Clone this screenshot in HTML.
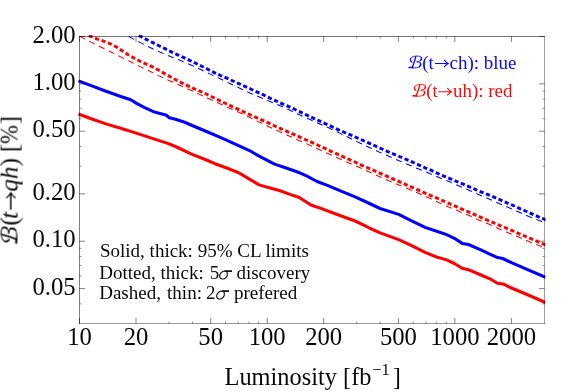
<!DOCTYPE html>
<html><head><meta charset="utf-8"><title>plot</title>
<style>
html,body{margin:0;padding:0;background:#fff;}
body{width:581px;height:391px;overflow:hidden;font-family:"Liberation Serif",serif;}
svg{display:block;}
text{font-family:"Liberation Serif",serif;fill:#000;}
</style></head><body>
<svg width="581" height="391" viewBox="0 0 581 391">
<rect width="581" height="391" fill="#fff"/>
<defs><clipPath id="c"><rect x="78.0" y="35.0" width="467.5" height="289.0"/></clipPath></defs>

<g clip-path="url(#c)" fill="none" stroke-linejoin="round">
<path d="M79.4 36.2 L82.2 37.6 L92.0 42.6 L101.8 47.5 L111.6 52.3 L121.6 57.4 L131.1 62.0 L141.2 67.1 L150.8 71.8 L160.2 76.4 L170.1 81.0 L180.3 85.5 L190.4 90.0 L199.6 94.4 L209.5 99.0 L219.8 103.7 L229.6 108.2 L239.4 112.6 L249.8 117.4 L259.1 122.1 L269.3 126.9 L279.3 131.6 L289.1 135.9 L298.9 140.4 L309.2 144.9 L318.9 149.5 L328.9 154.0 L338.8 158.5 L348.9 162.9 L358.9 167.3 L368.7 171.7 L378.6 176.2 L388.4 180.6 L398.8 184.9 L408.6 189.1 L418.9 193.6 L429.2 198.0 L438.1 202.3 L448.2 206.8 L458.6 211.1 L468.6 215.3 L478.6 219.9 L488.7 224.1 L498.3 228.5 L508.6 233.0 L518.7 237.1 L528.7 241.4 L539.1 245.6 L546.5 248.6" stroke="#f00" stroke-width="1.05" stroke-dasharray="6.222 4.694" stroke-dashoffset="0.000"/>
<path d="M128.7 36.5 L131.4 37.9 L140.9 42.9 L150.7 47.8 L160.5 52.3 L171.0 56.7 L180.8 60.6 L190.9 64.9 L200.7 69.5 L210.3 74.1 L220.1 78.8 L229.9 83.5 L239.8 88.2 L249.8 92.9 L260.0 97.2 L269.8 101.5 L280.1 105.8 L290.0 110.3 L300.3 115.3 L310.1 119.6 L320.5 124.3 L330.3 128.6 L339.6 133.1 L349.2 137.7 L358.8 142.6 L368.9 147.2 L378.9 151.9 L388.7 156.2 L398.6 160.6 L408.4 164.7 L418.8 169.1 L428.9 173.2 L438.9 177.4 L449.0 181.6 L459.1 186.0 L469.1 190.3 L479.1 194.7 L489.0 199.0 L499.0 203.4 L509.1 207.8 L518.9 212.1 L528.7 216.4 L539.1 220.5 L546.5 223.4" stroke="#00f" stroke-width="1.05" stroke-dasharray="6.212 4.687" stroke-dashoffset="0.000"/>
<path d="M88.7 35.6 L90.7 36.4 L97.4 39.1 L104.1 41.3 L110.3 43.8 L116.5 47.0 L122.1 50.7 L127.7 54.4 L133.4 57.8 L140.0 61.2 L146.0 64.0 L152.4 66.9 L158.4 70.0 L164.3 73.4 L170.3 76.7 L176.2 80.0 L182.1 83.0 L188.3 86.1 L194.4 88.8 L201.0 91.6 L207.2 94.5 L213.4 97.5 L219.6 100.5 L225.7 103.5 L231.7 106.3 L237.9 109.2 L244.1 112.0 L250.3 114.8 L256.5 117.6 L262.7 120.4 L268.9 123.2 L275.1 126.1 L281.3 128.8 L287.5 131.6 L293.7 134.3 L299.9 137.2 L306.3 140.0 L312.3 142.6 L318.6 145.5 L325.0 148.4 L331.2 151.3 L337.4 154.1 L343.4 156.9 L349.6 159.7 L356.0 162.5 L362.0 165.3 L368.2 168.0 L374.4 170.7 L381.0 173.6 L387.2 176.3 L393.4 179.1 L399.8 181.9 L406.0 184.6 L412.2 187.4 L418.4 190.2 L424.6 192.9 L430.8 195.6 L437.1 198.2 L443.3 200.9 L449.5 203.7 L455.9 206.4 L462.1 209.2 L468.3 211.8 L474.6 214.6 L480.8 217.3 L487.0 220.0 L493.4 222.6 L499.6 225.4 L506.0 228.0 L512.2 230.6 L518.4 233.4 L524.6 236.0 L530.8 238.7 L537.2 241.4 L543.7 244.2 L551.0 247.4" stroke="#f00" stroke-width="2.95" stroke-dasharray="4.236 2.597" stroke-dashoffset="0.000"/>
<path d="M138.8 35.4 L140.7 36.4 L147.1 39.8 L153.3 42.9 L159.5 46.0 L165.5 48.9 L171.4 51.9 L177.6 54.8 L183.9 57.6 L190.1 60.6 L196.2 63.5 L202.2 66.5 L208.2 69.5 L214.4 72.6 L220.6 75.5 L226.8 78.2 L232.9 81.0 L239.3 83.8 L245.5 86.6 L251.7 89.5 L257.9 92.4 L264.1 95.2 L270.3 98.4 L276.5 101.1 L282.5 103.9 L288.9 106.6 L295.0 109.5 L301.2 112.4 L307.4 115.4 L313.6 118.3 L320.0 121.2 L326.2 124.1 L332.4 126.9 L338.6 129.8 L344.8 132.5 L351.0 135.1 L357.2 137.9 L363.4 140.6 L369.6 143.4 L375.8 146.2 L382.0 149.0 L388.2 151.8 L394.4 154.4 L400.6 157.0 L406.8 159.7 L413.1 162.4 L419.5 165.3 L425.7 168.1 L431.9 170.7 L438.1 173.6 L444.4 176.3 L450.5 178.9 L456.7 181.5 L463.2 184.2 L468.9 186.7 L475.2 189.4 L481.6 192.1 L488.1 194.7 L494.5 197.4 L500.8 200.1 L507.0 202.9 L513.2 205.5 L519.4 208.4 L525.6 211.0 L531.8 213.8 L538.0 216.7 L544.2 219.1 L551.7 222.0" stroke="#00f" stroke-width="2.95" stroke-dasharray="4.226 2.590" stroke-dashoffset="0.000"/>
<path d="M78.5 80.8 L90.5 85.4 L106.0 91.3 L121.5 96.8 L130.8 99.8 L137.0 103.6 L144.7 107.7 L154.0 111.9 L160.0 113.5 L166.0 115.0 L169.3 117.7 L175.5 119.3 L183.2 121.7 L191.0 125.0 L206.5 131.5 L222.0 138.2 L237.5 145.2 L250.0 150.8 L253.7 153.0 L261.5 157.3 L274.6 164.1 L284.7 167.5 L295.5 171.3 L299.3 172.7 L307.0 176.2 L317.1 181.5 L328.7 185.9 L341.1 191.2 L355.1 196.8 L367.4 202.5 L380.1 208.5 L398.7 214.4 L411.1 220.6 L425.1 227.4 L437.4 231.5 L446.7 234.6 L454.4 238.3 L462.2 243.4 L468.4 244.5 L479.2 249.1 L488.2 253.3 L497.6 257.6 L502.7 258.5 L511.5 262.7 L527.0 269.4 L545.5 277.3" stroke="#00f" stroke-width="3.05"/>
<path d="M78.5 114.0 L90.5 118.5 L106.0 123.9 L121.5 128.5 L132.3 131.9 L160.0 140.9 L167.7 143.4 L175.5 146.5 L191.0 153.8 L206.5 160.0 L215.0 163.7 L227.4 168.3 L238.2 172.5 L246.0 177.1 L259.1 184.9 L269.2 187.7 L280.1 190.8 L290.0 194.4 L299.3 197.5 L310.9 205.0 L321.0 208.4 L336.5 214.3 L355.1 221.0 L364.3 225.4 L369.3 228.0 L380.1 232.9 L398.7 239.6 L411.1 245.3 L425.1 252.4 L437.4 257.3 L446.7 259.9 L454.4 263.5 L462.2 268.2 L468.3 269.7 L479.8 274.5 L490.0 278.8 L497.5 283.3 L502.9 283.9 L511.5 288.0 L527.0 294.5 L545.5 302.5" stroke="#f00" stroke-width="3.05"/>
</g>
<g stroke="#000" fill="none">
<path d="M79.5 36.2 V323.8" stroke-width="0.50"/>
<path d="M79.2 36.5 H544.8" stroke-width="0.54"/>
<path d="M544.5 36.2 V323.8" stroke-width="0.39"/>
<path d="M79.2 323.5 H544.8" stroke-width="0.41"/>
<path stroke-width="0.50" d="M79.50 323.5 v-5.4M79.50 36.5 v5.4M136.00 323.5 v-5.4M136.00 36.5 v5.4M210.70 323.5 v-5.4M210.70 36.5 v5.4M267.20 323.5 v-5.4M267.20 36.5 v5.4M323.70 323.5 v-5.4M323.70 36.5 v5.4M398.40 323.5 v-5.4M398.40 36.5 v5.4M454.90 323.5 v-5.4M454.90 36.5 v5.4M511.40 323.5 v-5.4M511.40 36.5 v5.4M79.5 36.50 h5.4M544.5 36.50 h-5.4M79.5 83.87 h5.4M544.5 83.87 h-5.4M79.5 131.23 h5.4M544.5 131.23 h-5.4M79.5 193.85 h5.4M544.5 193.85 h-5.4M79.5 241.22 h5.4M544.5 241.22 h-5.4M79.5 288.58 h5.4M544.5 288.58 h-5.4"/>
<path stroke-width="0.45" d="M169.06 323.5 v-1.9M169.06 36.5 v1.9M192.51 323.5 v-1.9M192.51 36.5 v1.9M225.56 323.5 v-1.9M225.56 36.5 v1.9M238.12 323.5 v-1.9M238.12 36.5 v1.9M249.01 323.5 v-1.9M249.01 36.5 v1.9M258.61 323.5 v-1.9M258.61 36.5 v1.9M356.76 323.5 v-1.9M356.76 36.5 v1.9M380.21 323.5 v-1.9M380.21 36.5 v1.9M413.26 323.5 v-1.9M413.26 36.5 v1.9M425.82 323.5 v-1.9M425.82 36.5 v1.9M436.71 323.5 v-1.9M436.71 36.5 v1.9M446.31 323.5 v-1.9M446.31 36.5 v1.9M79.5 91.07 h1.9M544.5 91.07 h-1.9M79.5 99.12 h1.9M544.5 99.12 h-1.9M79.5 108.24 h1.9M544.5 108.24 h-1.9M79.5 118.77 h1.9M544.5 118.77 h-1.9M79.5 146.48 h1.9M544.5 146.48 h-1.9M79.5 166.14 h1.9M544.5 166.14 h-1.9M79.5 248.42 h1.9M544.5 248.42 h-1.9M79.5 256.47 h1.9M544.5 256.47 h-1.9M79.5 265.59 h1.9M544.5 265.59 h-1.9M79.5 276.12 h1.9M544.5 276.12 h-1.9M79.5 303.83 h1.9M544.5 303.83 h-1.9"/>
</g>
<g opacity="0.97">
<g font-size="24.7px">
<text x="75.6" y="42.5" text-anchor="end">2.00</text>
<text x="75.6" y="89.9" text-anchor="end">1.00</text>
<text x="75.6" y="137.2" text-anchor="end">0.50</text>
<text x="75.6" y="199.8" text-anchor="end">0.20</text>
<text x="75.6" y="247.2" text-anchor="end">0.10</text>
<text x="75.6" y="294.6" text-anchor="end">0.05</text>
<text x="79.5" y="345" text-anchor="middle">10</text>
<text x="136.0" y="345" text-anchor="middle">20</text>
<text x="210.7" y="345" text-anchor="middle">50</text>
<text x="267.2" y="345" text-anchor="middle">100</text>
<text x="323.7" y="345" text-anchor="middle">200</text>
<text x="398.4" y="345" text-anchor="middle">500</text>
<text x="454.9" y="345" text-anchor="middle">1000</text>
<text x="511.4" y="345" text-anchor="middle">2000</text>
</g>
<text y="384.5" font-size="24.4px"><tspan x="224.5">Luminosity [fb</tspan><tspan x="372.3" y="375.1" font-size="16.5px">−1</tspan><tspan x="392.7" y="384.5">]</tspan></text>
<g transform="translate(17.6 243.6) rotate(-90)" font-size="25px">
<g transform="translate(0.00 -17.20) scale(0.0630 0.0659)" fill="none" stroke="#000" stroke-linecap="round" stroke-linejoin="round"><path d="M70 135 C45 125 30 100 35 75 C43 35 95 12 165 10 C225 8 265 30 260 65 C255 100 210 122 160 126 C215 130 250 150 243 185 C235 230 175 250 115 248 C75 246 35 236 7 240" stroke-width="17.2"/><path d="M143 22 C130 70 105 170 73 228 M252 40 C262 60 258 80 240 98 M236 150 C248 175 240 205 215 225 M36 70 C32 90 38 110 52 124 M10 240 C30 236 50 238 80 244" stroke-width="26.8"/></g>
<text x="18.1" y="0">(</text>
<text x="24.7" y="0" font-style="italic">t</text>
<path d="M33.90 -6.75 H50.50 M45.60 -11.45 Q48.25 -8.25 50.90 -6.75 Q48.25 -5.25 45.60 -2.05" fill="none" stroke="#000" stroke-width="1.30" stroke-linejoin="miter"/>
<text x="52.1" y="0" font-style="italic">qh</text>
<text y="0"><tspan x="77.3">)</tspan><tspan x="91.4">[</tspan><tspan x="119.2">]</tspan></text>
<text transform="translate(99.8 0) scale(0.9 1)">%</text>
</g>
<g transform="translate(408.70 55.50) scale(0.0496 0.0500)" fill="none" stroke="#00f" stroke-linecap="round" stroke-linejoin="round"><path d="M70 135 C45 125 30 100 35 75 C43 35 95 12 165 10 C225 8 265 30 260 65 C255 100 210 122 160 126 C215 130 250 150 243 185 C235 230 175 250 115 248 C75 246 35 236 7 240" stroke-width="17.7"/><path d="M143 22 C130 70 105 170 73 228 M252 40 C262 60 258 80 240 98 M236 150 C248 175 240 205 215 225 M36 70 C32 90 38 110 52 124 M10 240 C30 236 50 238 80 244" stroke-width="27.7"/></g>
<text x="422.3" y="68.6" font-size="19px" style="fill:#00f">(t</text>
<path d="M435.00 63.50 H447.80 M444.00 59.90 Q446.10 62.35 448.20 63.50 Q446.10 64.65 444.00 67.10" fill="none" stroke="#00f" stroke-width="1.10" stroke-linejoin="miter"/>
<text x="516.5" y="68.5" text-anchor="end" font-size="19px" style="fill:#00f">ch): blue</text>
<g transform="translate(412.70 83.80) scale(0.0496 0.0500)" fill="none" stroke="#f00" stroke-linecap="round" stroke-linejoin="round"><path d="M70 135 C45 125 30 100 35 75 C43 35 95 12 165 10 C225 8 265 30 260 65 C255 100 210 122 160 126 C215 130 250 150 243 185 C235 230 175 250 115 248 C75 246 35 236 7 240" stroke-width="17.7"/><path d="M143 22 C130 70 105 170 73 228 M252 40 C262 60 258 80 240 98 M236 150 C248 175 240 205 215 225 M36 70 C32 90 38 110 52 124 M10 240 C30 236 50 238 80 244" stroke-width="27.7"/></g>
<text x="426.2" y="96.9" font-size="19px" style="fill:#f00">(t</text>
<path d="M438.30 91.80 H451.10 M447.30 88.20 Q449.40 90.65 451.50 91.80 Q449.40 92.95 447.30 95.40" fill="none" stroke="#f00" stroke-width="1.10" stroke-linejoin="miter"/>
<text x="512.5" y="96.8" text-anchor="end" font-size="19px" style="fill:#f00">uh): red</text>
<g font-size="19px">
<text x="100" y="256.8">Solid, thick: 95% CL limits</text>
<text y="278.8"><tspan x="99.2">Dotted,</tspan><tspan x="160.5">thick:</tspan><tspan x="209.7">5</tspan><tspan x="236.4">discovery</tspan></text>
<text y="298.8"><tspan x="99.2">Dashed,</tspan><tspan x="167.1">thin:</tspan><tspan x="206.0">2</tspan><tspan x="234.0">prefered</tspan></text>
<path transform="translate(219.0 278.8)" d="M13 -7.75 L6 -7.75 C2.6 -7.75 0.5 -4.8 0.65 -2.5 C0.8 -0.5 2.1 0.2 3.6 0.2 C6.4 0.2 8.6 -2.6 8.4 -5.2 C8.3 -6.5 7.6 -7.4 6.4 -7.75" fill="none" stroke="#000" stroke-width="1.1"/>
<path transform="translate(219.0 278.8)" d="M13 -7.6 H5.5" fill="none" stroke="#000" stroke-width="1.4"/>
<path transform="translate(216.0 298.8)" d="M13 -7.75 L6 -7.75 C2.6 -7.75 0.5 -4.8 0.65 -2.5 C0.8 -0.5 2.1 0.2 3.6 0.2 C6.4 0.2 8.6 -2.6 8.4 -5.2 C8.3 -6.5 7.6 -7.4 6.4 -7.75" fill="none" stroke="#000" stroke-width="1.1"/>
<path transform="translate(216.0 298.8)" d="M13 -7.6 H5.5" fill="none" stroke="#000" stroke-width="1.4"/>
</g>
</g>
</svg></body></html>
